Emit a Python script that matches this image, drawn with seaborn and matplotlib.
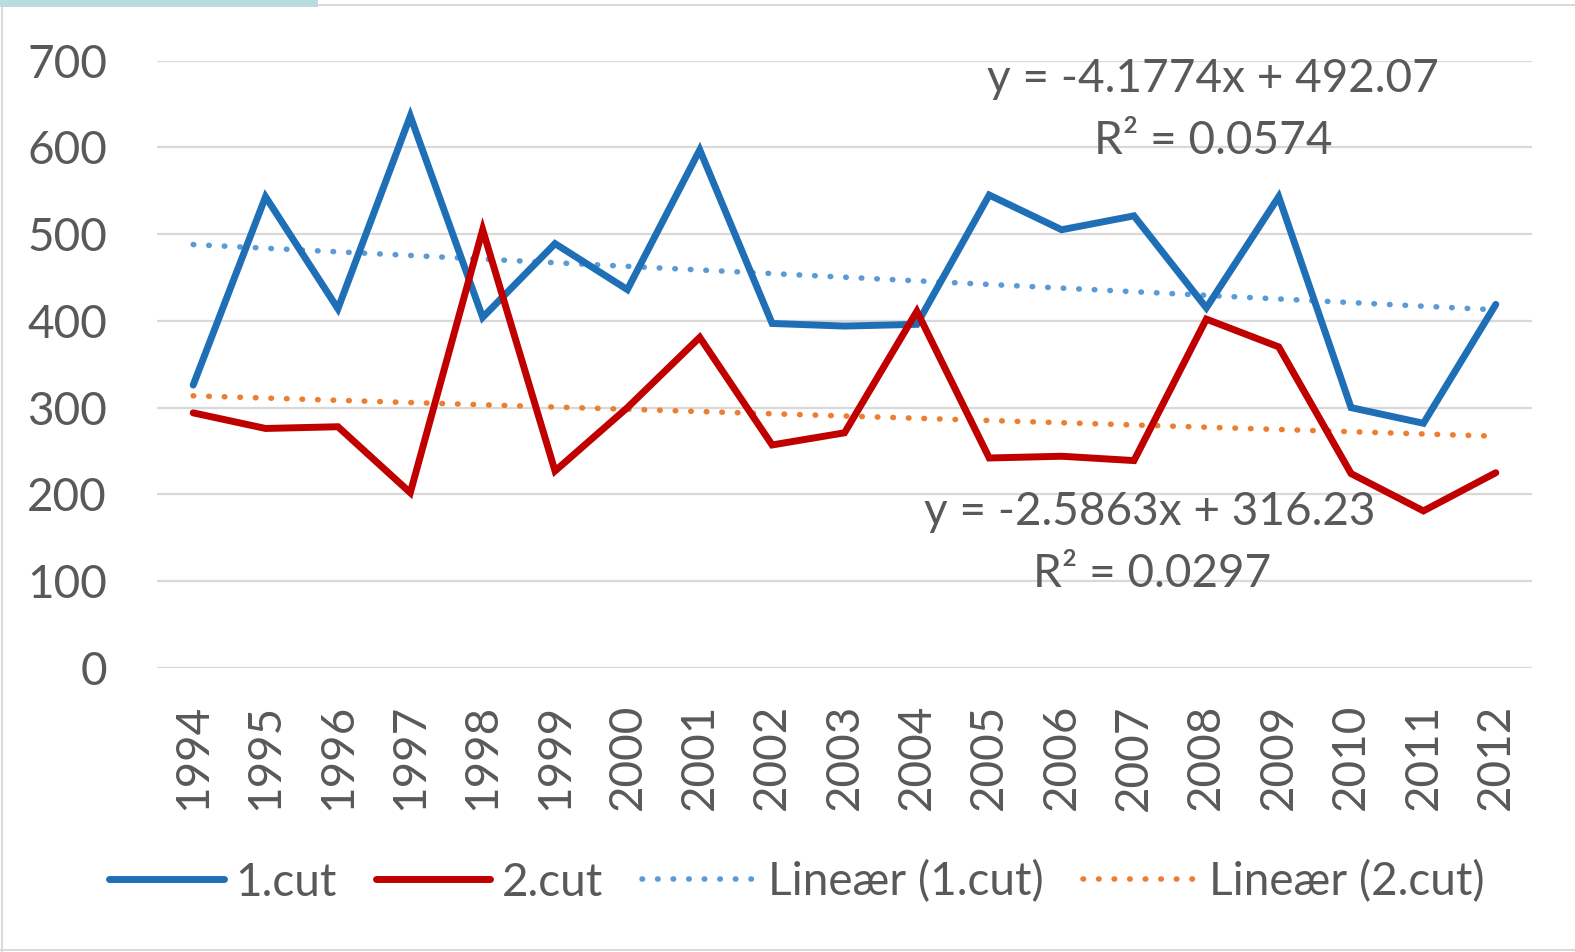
import numpy as np
import pandas as pd
import seaborn as sns
import matplotlib.pyplot as plt
from matplotlib.patches import Rectangle
from matplotlib.lines import Line2D

# Data
years = [1994, 1995, 1996, 1997, 1998, 1999, 2000, 2001, 2002, 2003,
         2004, 2005, 2006, 2007, 2008, 2009, 2010, 2011, 2012]
cut1 = [326, 543, 414, 636, 404, 489, 436, 597, 397, 394,
        396, 545, 505, 521, 415, 543, 300, 282, 419]
cut2 = [294, 276, 278, 202, 505, 227, 300, 381, 257, 271,
        411, 242, 244, 239, 402, 370, 224, 181, 225]
yticks = [0, 100, 200, 300, 400, 500, 600, 700]

# Linear trend coefficients (x = 1..n)
slope1, intercept1, r2_1 = -4.1774, 492.07, 0.0574
slope2, intercept2, r2_2 = -2.5863, 316.23, 0.0297

series_names = ["1.cut", "2.cut", "Lineær (1.cut)", "Lineær (2.cut)"]
colors = {"1.cut": "#1f6fb7", "2.cut": "#c00000",
          "Lineær (1.cut)": "#5b9bd5", "Lineær (2.cut)": "#ed7d31"}

sns.set_theme(style="white")
plt.rcParams["font.family"] = ["Lato", "DejaVu Sans"]
TXT = "#595959"
FS = 33
LW_SOLID = 5.0
LW_DOT = 4.0
DOTS = (0, (0.1, 2.7))

W, H = 1575, 952
fig = plt.figure(figsize=(W / 100, H / 100), dpi=100)
fig.patch.set_facecolor("white")

ax_left, ax_right, ax_top, ax_bot = 157, 1532, 60.5, 668
ax = fig.add_axes([ax_left / W, 1 - ax_bot / H,
                   (ax_right - ax_left) / W, (ax_bot - ax_top) / H])

idx = np.arange(len(years))
xs = np.arange(1, len(years) + 1)
df = pd.DataFrame({"pos": idx, "1.cut": cut1, "2.cut": cut2,
                   "Lineær (1.cut)": slope1 * xs + intercept1,
                   "Lineær (2.cut)": slope2 * xs + intercept2})

# Trend lines (dotted)
for name in ["Lineær (1.cut)", "Lineær (2.cut)"]:
    sns.lineplot(data=df, x="pos", y=name, ax=ax, color=colors[name],
                 linewidth=LW_DOT, dashes=False, zorder=3,
                 linestyle=DOTS, dash_capstyle="round")

# Data series
for name in ["1.cut", "2.cut"]:
    sns.lineplot(data=df, x="pos", y=name, ax=ax, color=colors[name],
                 linewidth=LW_SOLID, zorder=4, solid_joinstyle="miter")

ax.set_xlim(-0.5, len(years) - 0.5)
ax.set_ylim(0, 700)
ax.set_yticks(yticks)
ax.set_yticklabels([str(v) for v in yticks])
ax.set_xticks(idx)
ax.set_xticklabels([str(y) for y in years], rotation=90)
ax.set_xlabel("")
ax.set_ylabel("")
ax.grid(axis="y", color="#d9d9d9", linewidth=1.6, zorder=0)
ax.grid(axis="x", visible=False)
for s in ax.spines.values():
    s.set_visible(False)
ax.tick_params(axis="y", length=0, pad=36, labelsize=FS, labelcolor=TXT)
ax.tick_params(axis="x", length=0, pad=26, labelsize=FS, labelcolor=TXT)
for lab in ax.get_yticklabels() + ax.get_xticklabels():
    lab.set_color(TXT)

# Trend equation labels
def eq_label(x, y, txt):
    fig.text(x / W, 1 - y / H, txt, ha="center", va="center",
             fontsize=FS, color=TXT, zorder=5)

eq_label(1213, 79, f"y = {slope1:.4f}x + {intercept1:.2f}")
eq_label(1213, 141, f"R² = {r2_1:.4f}")
eq_label(1150, 512, f"y = {slope2:.4f}x + {intercept2:.2f}")
eq_label(1152, 574, f"R² = {r2_2:.4f}")

# Legend
handles = [
    Line2D([], [], color=colors["1.cut"], linewidth=LW_SOLID, solid_capstyle="round"),
    Line2D([], [], color=colors["2.cut"], linewidth=LW_SOLID, solid_capstyle="round"),
    Line2D([], [], color=colors["Lineær (1.cut)"], linewidth=LW_DOT,
           linestyle=DOTS, dash_capstyle="round"),
    Line2D([], [], color=colors["Lineær (2.cut)"], linewidth=LW_DOT,
           linestyle=DOTS, dash_capstyle="round"),
]
leg = fig.legend(handles, series_names, loc="center",
                 bbox_to_anchor=(797 / W, 1 - 882 / H), ncol=4,
                 frameon=False, fontsize=FS, handlelength=2.5,
                 handletextpad=0.25, columnspacing=0.85, labelcolor=TXT)

# Chart frame
border = "#d9d9d9"
fig.patches.append(Rectangle((0, 1 - 6 / H), 1, 2 / H, transform=fig.transFigure,
                             facecolor=border, edgecolor="none"))
fig.patches.append(Rectangle((1 / W, 0), 2 / W, 1, transform=fig.transFigure,
                             facecolor=border, edgecolor="none"))
fig.patches.append(Rectangle((0, 1 / H), 1, 2 / H, transform=fig.transFigure,
                             facecolor=border, edgecolor="none"))
fig.patches.append(Rectangle((0, 1 - 7 / H), 318 / W, 7 / H, transform=fig.transFigure,
                             facecolor="#b7dde3", edgecolor="none"))

fig.savefig("out.png", dpi=100, facecolor="white")
